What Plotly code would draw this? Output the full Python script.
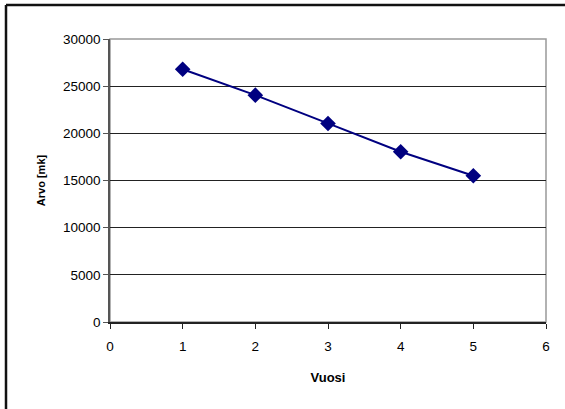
import plotly.graph_objects as go

years = [1, 2, 3, 4, 5]
values = [26800, 24050, 21050, 18050, 15500]
x_ticks = [0, 1, 2, 3, 4, 5, 6]
y_ticks = [0, 5000, 10000, 15000, 20000, 25000, 30000]
y_labels = [str(v) for v in y_ticks]

W, H = 565, 409
L, R, T, B = 110, 19, 39, 87
pw, ph = W - L - R, H - T - B

def px_x(p):
    return (p - L) / pw

def px_y(p):
    return (H - B - p) / ph

fig = go.Figure()
fig.add_trace(go.Scatter(
    x=years, y=values, mode="lines+markers",
    line=dict(color="#000080", width=2),
    marker=dict(symbol="diamond", size=12, color="#000080"),
    showlegend=False,
))

font = dict(family="Arial, Liberation Sans", size=13.5, color="#000000")
fig.update_layout(
    width=W, height=H,
    margin=dict(l=L, r=R, t=T, b=B),
    paper_bgcolor="white", plot_bgcolor="white",
    font=font,
    xaxis=dict(range=[0, 6], tickvals=x_ticks, showgrid=False, zeroline=False,
               showline=True, linecolor="#222222", linewidth=1.5,
               ticks="outside", ticklen=5, tickcolor="#222222",
               ticklabelstandoff=6,
               title=dict(text="<b>Vuosi</b>", font=dict(size=13), standoff=20)),
    yaxis=dict(range=[0, 30000], tickvals=y_ticks, ticktext=y_labels,
               showgrid=True, gridcolor="#222222",
               gridwidth=1, zeroline=False,
               showline=True, linecolor="#555555", linewidth=1.5,
               ticks="outside", ticklen=5, tickcolor="#555555",
               title=dict(text="<b>Arvo [mk]</b>", font=dict(size=11), standoff=15)),
)

# plot area border (top/right grey)
fig.add_shape(type="rect", xref="paper", yref="paper", x0=0, y0=0, x1=1, y1=1,
              line=dict(color="#999999", width=1.5), layer="below")
# outer chart border (left and top visible)
fig.add_shape(type="line", xref="paper", yref="paper",
              x0=px_x(6), y0=px_y(5), x1=px_x(6), y1=px_y(420),
              line=dict(color="#111111", width=2.5))
fig.add_shape(type="line", xref="paper", yref="paper",
              x0=px_x(6), y0=px_y(5), x1=px_x(580), y1=px_y(5),
              line=dict(color="#111111", width=2.5))

fig.write_html("out.html")
